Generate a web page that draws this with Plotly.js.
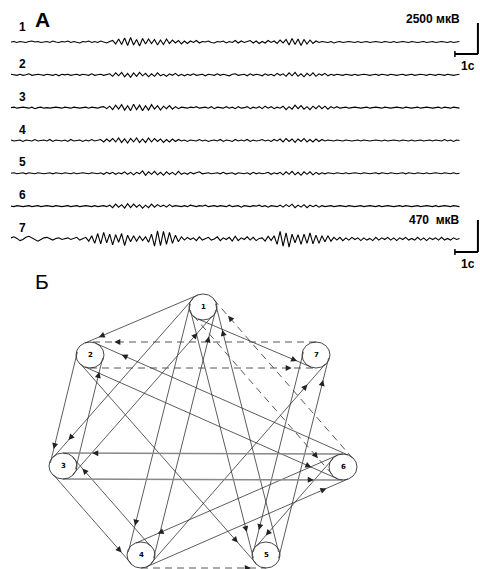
<!DOCTYPE html>
<html><head><meta charset="utf-8">
<script src="https://cdn.plot.ly/plotly-3.0.1.min.js"></script>
<style>html,body{margin:0;padding:0;background:#fff}#chart{width:480px;height:569px}</style>
</head><body><div id="chart"></div>
<script>
// ---------- Panel A: EEG traces ----------
const channelNames = ['1','2','3','4','5','6','7'];
const DT = 0.13;                              // s per sample
const unitUV = [40,40,40,40,40,40,8];         // µV per array step
const uvPerRow = [2647,2647,2647,2647,2647,2647,482]; // display sensitivity (µV per channel spacing)
const calibUV = [2500, 470];                  // calibration bars
const calibSec = 1;
const calibLabels = ['2500 мкВ', '470\u00a0\u00a0мкВ'];
const timeLabel = '1с';

const ch1 = [0,1,-1,1,0,-1,1,2,0,1,-1,0,1,-1,2,0,-1,1,0,2,-1,1,0,-2,1,0,2,-1,1,-1,2,0,-2,1,
3,-4,6,-5,8,-7,9,-6,5,-8,7,-4,6,-3,5,-6,4,-5,6,-3,4,-2,3,-4,2,-3,
2,-1,3,-2,1,0,2,-1,-2,1,0,2,-2,1,-1,3,-2,2,-1,1,3,-2,2,-3,1,-2,3,-1,2,-3,4,-2,
5,-6,7,-5,6,-7,5,-4,4,-3,
2,-1,1,0,-1,1,-2,0,1,-1,0,1,0,-1,1,-1,0,1,-1,0,1,0,-1,1,0,-1,1,-1,0,1,0,-1,1,0,-1,0,1,-1,0,1,-1,0,1,0,-1,1,-1,0,1];
const ch2 = [1,0,-1,1,-1,0,2,-1,0,1,0,-1,1,0,-1,1,-2,1,0,1,-1,0,1,-1,1,0,-1,2,-1,0,1,-1,0,
2,-3,4,-2,5,-4,3,-5,4,-3,5,-2,3,-4,2,-3,4,-2,1,-3,2,-1,3,-2,1,-2,
1,-1,2,-1,0,1,-2,1,0,-1,2,-1,1,0,-2,1,2,-1,0,1,-2,2,-1,1,0,-2,2,-1,1,-2,3,-1,2,
-3,4,-2,5,-3,2,-4,3,-2,4,-3,2,-1,3,-2,1,-1,
1,0,-1,1,0,-1,1,-1,0,1,0,-1,0,1,-1,1,0,-1,1,0,-1,0,1,-1,0,1,-1,0,1,0,-1,1,0,-1,1,0,-1,1,0,-1,0,1];
const ch3 = [0,1,-1,0,1,0,-1,1,-2,0,1,-1,0,-1,0,1,0,-1,1,0,-1,1,0,-1,0,1,-1,1,0,-1,1,
2,-2,3,-4,5,-3,6,-5,4,-6,7,-4,5,-6,4,-5,6,-3,4,-5,3,-2,4,-3,2,-2,
1,0,-1,1,0,2,-1,0,1,-1,2,-2,1,0,-1,2,-1,1,-2,2,-1,0,2,-2,1,-1,2,-2,3,-1,2,-2,1,-1,
3,-4,2,-3,5,-2,4,-3,2,-4,3,-2,4,-2,3,-3,2,-1,2,-1,
0,1,-1,0,1,0,-1,0,1,-1,0,1,0,-1,1,0,-1,0,1,0,-1,1,0,-1,0,1,-1,0,1,0,-1,0,1,-1,1,0,-1,1,0,-1];
const ch4 = [1,-1,0,1,-2,1,0,-1,2,-1,0,1,-1,2,-2,1,0,-1,1,-2,2,-1,0,1,-2,1,-1,2,-1,0,
2,-3,3,-2,4,-3,5,-4,3,-5,4,-3,5,-4,3,-4,5,-3,4,-2,3,-4,2,-3,3,-2,2,-1,1,
-2,1,0,-1,2,-1,1,-2,0,1,-1,2,-2,1,0,-2,2,-1,1,-1,2,-2,1,-1,0,2,-1,1,-2,2,-1,
3,-3,4,-2,3,-4,3,-2,4,-3,2,-3,3,-2,2,-1,1,
0,-1,1,0,-1,1,0,-1,0,1,-1,1,0,-1,0,1,0,-1,1,-1,0,1,0,-1,1,0,-1,1,-1,0,1,-1,0,1,-1,1,0,-1,2,-1,1,-2,1,0];
const ch5 = [0,1,-1,0,1,-1,1,0,-1,1,0,-1,0,1,-1,1,0,-1,1,0,-1,1,-1,0,1,0,-1,1,0,-1,
1,-2,2,-1,2,-2,1,-1,3,-2,2,-3,2,-1,5,-4,3,-2,4,-3,2,-4,3,-2,2,-3,4,-2,1,-2,2,
-1,1,3,-1,0,1,-1,0,1,-1,2,-1,0,1,-2,1,0,-1,1,-2,2,-1,1,-1,0,2,-2,1,-1,2,
-3,3,-2,4,-3,2,-4,3,-2,3,-3,2,-2,1,-1,
1,0,-1,1,0,-1,1,-1,0,1,0,-1,1,0,-1,0,1,-1,1,0,-1,1,0,-1,0,1,-1,1,0,-1,1,0,-1,1,-1,0,1,0,-1,1,0,-1,1,-1,0];
const ch6 = [0,-1,1,0,-1,0,1,-1,0,1,-1,0,1,0,-1,1,0,-1,0,1,-1,0,1,-1,0,1,0,-1,1,-1,0,1,-1,
2,-3,4,-2,3,-4,5,-3,4,-2,3,-4,2,-3,4,-2,3,-1,2,-2,
3,-1,1,0,-1,1,-1,2,0,-1,1,0,2,-1,0,1,-1,1,0,-1,2,-1,0,1,-2,1,0,-1,1,0,2,-1,1,-2,1,0,-1,
2,-2,3,-1,4,-3,2,-2,3,-3,2,-1,2,-2,1,-1,
0,1,-1,0,1,0,-1,1,0,-1,0,1,-1,0,1,0,-1,1,-1,0,1,0,-1,0,1,-1,1,0,-1,0,1,-1,0,1,0,-1,1,-1,0,1,0,-1,1,0,-1];
const ch7 = [2,4,1,-3,-1,3,5,2,-2,-4,-1,2,3,0,-2,1,2,-1,0,2,-1,1,3,-2,1,
3,-4,6,-8,10,-9,12,-7,9,-11,8,-6,10,-12,7,-5,6,-4,5,-3,4,
-6,9,-13,15,-12,14,-10,12,-8,7,-5,4,
-2,3,-1,2,-3,4,-2,1,3,-2,0,4,-3,2,-1,3,-4,5,-3,2,-1,4,-2,3,-3,1,2,-4,5,-3,
6,-10,14,-13,11,-15,9,-7,8,-10,9,-8,11,-9,7,-8,6,-5,6,-4,3,
-2,3,-3,2,-2,3,-1,2,-3,2,-2,1,-3,3,-2,2,-1,3,-2,2,-3,2,-1,3,-2,1,-2,3,-2,2,-3,2,-1,2,-2,3,-2,1,-2,2,-1,1];
const eeg = [ch1,ch2,ch3,ch4,ch5,ch6,ch7];

// ---------- Panel Б: connection graph ----------
const nodeNames = ['1','2','3','4','5','6','7'];
const nodeX = [203, 90, 63, 141, 266, 343, 316];   // layout positions
const nodeY = [307, 355, 466, 555, 555, 467, 355];
const edgeFrom = [1,1,1,3,1,4,1,5,2,3,3,4,6,3,2,6,2,6,4,7,5,4,6, 7,2,6,1,4];
const edgeTo   = [2,7,3,1,4,1,5,1,3,2,4,3,3,6,6,2,5,4,6,5,7,7,5, 2,7,1,6,5];
const edgeKind = ['s','s','s','s','s','s','s','s','s','s','s','s','b','b','s','s','s','s','s','s','s','s','s',
                  'd','d','d','d','d'];

// ---------- build ----------
const traces = [];
const ann = [];
const shapes = [];
const FONT = 'Liberation Sans, Arial, sans-serif';

eeg.forEach((arr, k) => {
  traces.push({
    x: arr.map((_, i) => i * DT),
    y: arr.map(v => (k + 1) - v * unitUV[k] / uvPerRow[k]),
    mode: 'lines', type: 'scatter', xaxis: 'x', yaxis: 'y',
    line: {color: '#000', width: 1.1}, hoverinfo: 'skip'
  });
  ann.push({xref: 'x', yref: 'y', x: 0.52, y: (k + 1) - (k === 0 ? 0.45 : 0.33),
    xanchor: 'center', yanchor: 'middle',
    text: '<b>' + channelNames[k] + '</b>', showarrow: false,
    font: {family: FONT, size: 12, color: '#000'}});
});

// calibration bars
const barX = 20.30;
const barBottom = [1.366, 7.396];
calibUV.forEach((uv, j) => {
  const chIdx = j === 0 ? 0 : 6;
  const h = uv / uvPerRow[chIdx];
  const yb = barBottom[j];
  const L = {color: '#000', width: 2};
  shapes.push({type: 'line', xref: 'x', yref: 'y', x0: barX, x1: barX, y0: yb, y1: yb - h, line: L});
  shapes.push({type: 'line', xref: 'x', yref: 'y', x0: barX - calibSec, x1: barX, y0: yb, y1: yb, line: L});
  shapes.push({type: 'line', xref: 'x', yref: 'y', x0: barX - calibSec, x1: barX - calibSec, y0: yb - 0.09, y1: yb + 0.09, line: {color: '#000', width: 1.5}});
  ann.push({xref: 'x', yref: 'y', x: 19.62, y: yb - h - (j === 0 ? 0.12 : 0.0), xanchor: 'right', yanchor: 'middle',
    text: '<b>' + calibLabels[j] + '</b>', showarrow: false,
    font: {family: FONT, size: 12, color: '#000'}});
  ann.push({xref: 'x', yref: 'y', x: 19.85, y: yb + 0.36, xanchor: 'center', yanchor: 'middle',
    text: '<b>' + timeLabel + '</b>', showarrow: false,
    font: {family: FONT, size: 12, color: '#000'}});
});

// panel letters
ann.push({xref: 'paper', yref: 'paper', x: 42/480, y: 1 - 20/569, xanchor: 'center', yanchor: 'middle',
  text: '<b>А</b>', showarrow: false, font: {family: FONT, size: 21, color: '#000'}});
ann.push({xref: 'paper', yref: 'paper', x: 42/480, y: 1 - 281/569, xanchor: 'center', yanchor: 'middle',
  text: 'Б', showarrow: false, font: {family: FONT, size: 21, color: '#000'}});

// graph edges
const R = 13;
const lines = {s: {x: [], y: []}, b: {x: [], y: []}, d: {x: [], y: []}};
edgeFrom.forEach((a, e) => {
  const b = edgeTo[e];
  const x1 = nodeX[a-1], y1 = nodeY[a-1], x2 = nodeX[b-1], y2 = nodeY[b-1];
  const dx = x2 - x1, dy = y2 - y1, Ln = Math.hypot(dx, dy);
  const ux = dx / Ln, uy = dy / Ln, nx = -uy, ny = ux;
  const sx = x1 + R*nx, sy = y1 + R*ny, ex = x2 + R*nx, ey = y2 + R*ny;
  const L = lines[edgeKind[e]];
  L.x.push(sx, ex, null); L.y.push(sy, ey, null);
  const back = 0.09 * Ln + 4;
  const tx = ex - back*ux, ty = ey - back*uy;
  ann.push({xref: 'x2', yref: 'y2', axref: 'x2', ayref: 'y2', x: tx, y: ty, ax: tx - 7*ux, ay: ty - 7*uy,
    text: '', showarrow: true, arrowhead: 2, arrowsize: 1.5, arrowwidth: 0.8, arrowcolor: '#222', standoff: 0, startstandoff: 0});
});
traces.push({x: lines.s.x, y: lines.s.y, mode: 'lines', type: 'scatter', xaxis: 'x2', yaxis: 'y2',
  line: {color: '#333', width: 0.8}, hoverinfo: 'skip'});
traces.push({x: lines.b.x, y: lines.b.y, mode: 'lines', type: 'scatter', xaxis: 'x2', yaxis: 'y2',
  line: {color: '#888', width: 1.6}, hoverinfo: 'skip'});
traces.push({x: lines.d.x, y: lines.d.y, mode: 'lines', type: 'scatter', xaxis: 'x2', yaxis: 'y2',
  line: {color: '#444', width: 0.9, dash: '7px,5px'}, hoverinfo: 'skip'});

nodeNames.forEach((nm, i) => {
  shapes.push({type: 'circle', xref: 'x2', yref: 'y2', x0: nodeX[i]-14, x1: nodeX[i]+14, y0: nodeY[i]-13, y1: nodeY[i]+13,
    line: {color: '#333', width: 0.9}, fillcolor: 'rgba(255,255,255,0)', layer: 'above'});
  ann.push({xref: 'x2', yref: 'y2', x: nodeX[i], y: nodeY[i], xanchor: 'center', yanchor: 'middle',
    text: '<b>' + nm + '</b>', showarrow: false,
    font: {family: 'DejaVu Sans, sans-serif', size: 7, color: '#000'}});
});

const splitPx = 275;
const yDomSplit = 1 - splitPx/569;
const layout = {
  width: 480, height: 569,
  margin: {l: 0, r: 0, t: 0, b: 0},
  paper_bgcolor: '#fff', plot_bgcolor: '#fff',
  showlegend: false,
  xaxis: {domain: [0, 1], range: [-0.478, 20.391], visible: false, fixedrange: true},
  yaxis: {domain: [yDomSplit, 1], range: [1 + (splitPx - 42)/32.83, -0.279], visible: false, fixedrange: true},
  xaxis2: {domain: [0, 1], range: [0, 480], visible: false, anchor: 'y2'},
  yaxis2: {domain: [0, yDomSplit], range: [569, splitPx], visible: false, anchor: 'x2'},
  shapes: shapes,
  annotations: ann
};
Plotly.newPlot('chart', traces, layout, {staticPlot: true, displayModeBar: false});
</script>
</body></html>
